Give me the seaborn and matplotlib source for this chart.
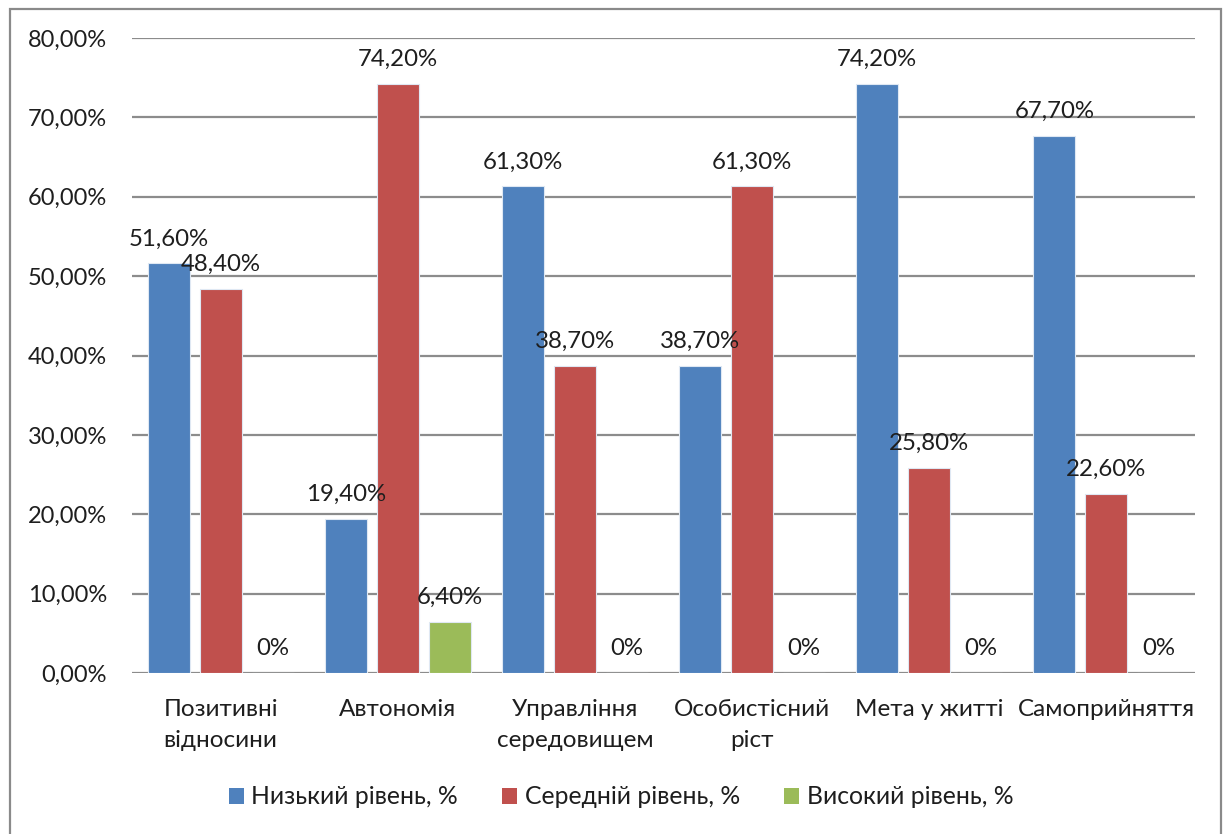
import matplotlib
matplotlib.use("Agg")
import matplotlib.pyplot as plt
import seaborn as sns
import pandas as pd
from matplotlib.patches import Rectangle, Patch

categories = ["Позитивні\nвідносини", "Автономія", "Управління\nсередовищем",
              "Особистісний\nріст", "Мета у житті", "Самоприйняття"]
levels = ["Низький рівень, %", "Середній рівень, %", "Високий рівень, %"]
low = [0.516, 0.194, 0.613, 0.387, 0.742, 0.677]
mid = [0.484, 0.742, 0.387, 0.613, 0.258, 0.226]
high = [0.0, 0.064, 0.0, 0.0, 0.0, 0.0]
colors = ["#4F81BD", "#C0504D", "#9BBB59"]
yticks = [0.0, 0.1, 0.2, 0.3, 0.4, 0.5, 0.6, 0.7, 0.8]

rows = []
for lvl, vals in zip(levels, [low, mid, high]):
    for c, v in zip(categories, vals):
        rows.append({"cat": c, "level": lvl, "val": v})
df = pd.DataFrame(rows)

sns.set_theme(style="white")
plt.rcParams["font.family"] = ["Lato", "DejaVu Sans"]
txt = "#1e1e1e"
fs = 17

fig = plt.figure(figsize=(12.25, 8.34), dpi=100)
ax = fig.add_axes([132/1225, 1-673/834, (1195-132)/1225, (673-38)/834])

sns.barplot(data=df, x="cat", y="val", hue="level", order=categories,
            hue_order=levels, palette=colors, saturation=1, width=0.88, gap=0.19,
            edgecolor="#dfe8f3", linewidth=0.8, legend=False, ax=ax, zorder=3)

ax.set_ylim(0, 0.8)
ax.set_xlim(-0.5, len(categories) - 0.5)
ax.set_yticks(yticks)
ax.set_yticklabels([f"{t*100:.2f}%".replace(".", ",") for t in yticks])
ax.yaxis.grid(True, color="#8c8c8c", linewidth=1.6, zorder=0)
ax.set_axisbelow(True)
for s in ax.spines.values():
    s.set_visible(False)
ax.tick_params(axis="both", length=0, labelsize=fs, colors=txt)
ax.tick_params(axis="y", pad=18)
ax.tick_params(axis="x", pad=19)
for lab in ax.get_xticklabels():
    lab.set_linespacing(1.55)
    lab.set_fontsize(17.5)
ax.set_xlabel("")
ax.set_ylabel("")

for cont, vals in zip(ax.containers, [low, mid, high]):
    labs = ["0%" if v == 0 else f"{v*100:.2f}%".replace(".", ",") for v in vals]
    ax.bar_label(cont, labels=labs, padding=10, fontsize=17.3, color=txt)

handles = [Patch(facecolor=c, edgecolor="none") for c in colors]
fig.legend(handles, levels, loc="center", bbox_to_anchor=(621/1225, 1-797/834), ncol=3,
           frameon=False, fontsize=17.8, handlelength=0.6, handleheight=0.6,
           handletextpad=0.3, columnspacing=1.8, labelcolor=txt)

fig.patches.append(Rectangle((10/1225, -0.05), (1221-10)/1225, 1.05-9/834,
                             transform=fig.transFigure, fill=False,
                             edgecolor="#8a8a8a", linewidth=1.6))

fig.savefig("out.png", dpi=100, facecolor="white")
